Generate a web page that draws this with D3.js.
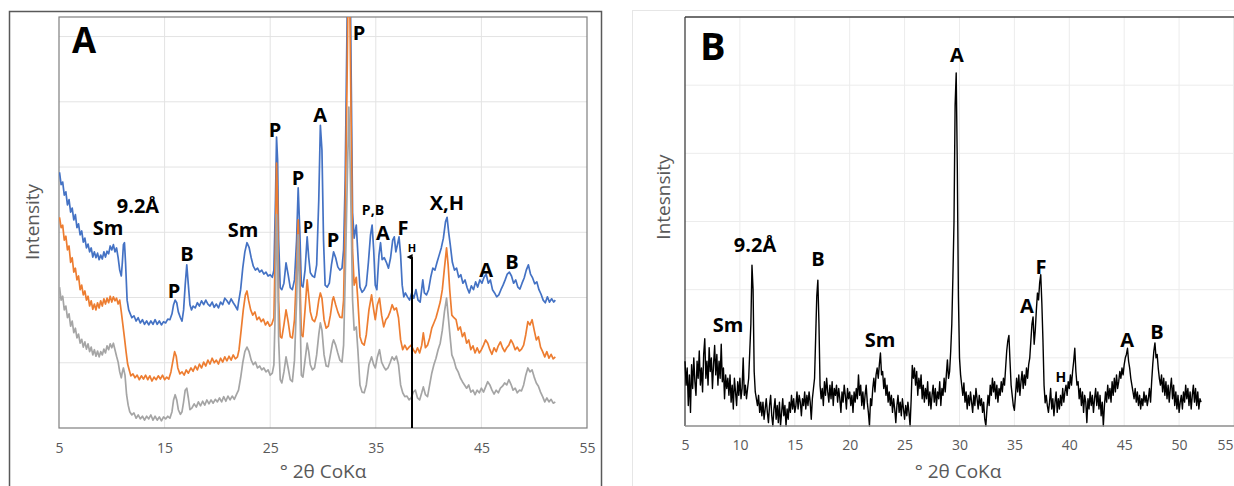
<!DOCTYPE html>
<html><head><meta charset="utf-8">
<script src="https://cdn.jsdelivr.net/npm/d3@7"></script>
<style>
body{margin:0;background:#fff;}
svg{display:block;}
text{font-family:"Open Sans","Noto Sans",sans-serif;}
</style>
</head><body>
<svg id="c" width="1234" height="486"></svg>
<script>
// ---------- DATA ----------
const xTicksA = [5,15,25,35,45,55];
const xTicksB = [5,10,15,20,25,30,35,40,45,50,55];
const gridA = [100,200,300,400,500,600];
const gridB = [100,200,300,400,500];
const vGridA = [15,25,35,45];
const vGridB = [10,15,20,25,30,35,40,45,50,55];

// Panel A: [2theta, intensity]
const aBlue = [[5.05,392],[5.2,373],[5.35,377],[5.5,357],[5.65,362],[5.8,342],[5.95,350],[6.1,331],[6.25,337],[6.4,319],[6.55,327],[6.7,307],[6.85,313],[7.0,296],[7.15,302],[7.3,285],[7.45,291],[7.6,276],[7.75,282],[7.9,270],[8.05,276],[8.2,262],[8.35,270],[8.5,261],[8.65,268],[8.8,258],[8.95,265],[9.1,259],[9.25,270],[9.4,262],[9.55,271],[9.7,267],[9.85,279],[10.0,273],[10.15,281],[10.3,270],[10.45,276],[10.6,261],[10.75,242],[10.9,233],[11.0,254],[11.1,281],[11.2,284],[11.3,254],[11.45,196],[11.6,181],[11.75,175],[11.9,169],[12.1,172],[12.3,164],[12.5,169],[12.7,161],[12.9,166],[13.1,159],[13.3,164],[13.5,158],[13.7,164],[13.9,159],[14.1,166],[14.3,159],[14.5,164],[14.7,158],[14.9,163],[15.1,161],[15.3,167],[15.5,166],[15.7,175],[15.85,189],[16.0,196],[16.15,192],[16.3,178],[16.5,169],[16.65,164],[16.8,181],[16.95,219],[17.1,250],[17.25,219],[17.4,189],[17.55,181],[17.7,187],[17.9,184],[18.1,192],[18.3,187],[18.5,195],[18.7,189],[18.9,196],[19.1,190],[19.3,187],[19.5,193],[19.7,185],[19.9,190],[20.1,184],[20.3,193],[20.5,189],[20.7,199],[20.9,195],[21.1,190],[21.3,198],[21.5,192],[21.7,187],[21.9,181],[22.0,192],[22.2,212],[22.4,245],[22.6,270],[22.8,284],[23.0,277],[23.2,261],[23.4,248],[23.6,242],[23.8,245],[24.0,239],[24.2,242],[24.4,236],[24.6,239],[24.8,233],[25.0,235],[25.2,231],[25.35,242],[25.5,350],[25.6,446],[25.7,411],[25.8,288],[25.95,215],[26.1,212],[26.3,222],[26.5,253],[26.7,235],[26.9,215],[27.1,212],[27.3,227],[27.5,288],[27.65,368],[27.8,304],[27.95,219],[28.1,216],[28.3,242],[28.5,293],[28.65,261],[28.8,238],[29.0,233],[29.2,231],[29.4,250],[29.6,350],[29.75,464],[29.9,426],[30.05,288],[30.2,219],[30.4,216],[30.6,222],[30.8,250],[31.0,270],[31.2,261],[31.4,247],[31.6,242],[31.8,245],[31.95,273],[32.1,380],[32.3,650],[32.45,820],[32.6,650],[32.8,330],[32.95,291],[33.15,311],[33.35,253],[33.5,216],[33.7,208],[33.9,212],[34.1,219],[34.3,254],[34.5,296],[34.65,311],[34.8,273],[34.95,219],[35.1,212],[35.3,265],[35.45,284],[35.6,258],[35.8,261],[36.0,254],[36.2,245],[36.4,261],[36.6,288],[36.75,293],[36.9,270],[37.05,281],[37.2,293],[37.35,265],[37.5,219],[37.65,201],[37.8,207],[38.0,201],[38.2,196],[38.4,207],[38.6,199],[38.8,212],[39.0,196],[39.2,193],[39.45,227],[39.6,207],[39.8,204],[40.0,212],[40.2,231],[40.4,245],[40.6,242],[40.8,254],[41.0,265],[41.2,276],[41.4,291],[41.6,316],[41.75,323],[41.9,300],[42.05,281],[42.25,254],[42.45,242],[42.65,245],[42.85,231],[43.05,235],[43.25,222],[43.45,227],[43.65,215],[43.85,207],[44.05,218],[44.25,212],[44.45,224],[44.65,216],[44.85,227],[45.05,222],[45.25,231],[45.45,236],[45.65,222],[45.85,227],[46.05,212],[46.25,207],[46.45,201],[46.65,204],[46.85,212],[47.05,219],[47.25,227],[47.45,236],[47.65,239],[47.85,233],[48.05,222],[48.25,227],[48.45,216],[48.65,213],[48.85,222],[49.05,230],[49.25,242],[49.45,250],[49.65,236],[49.85,230],[50.05,221],[50.25,224],[50.45,212],[50.65,205],[50.85,196],[51.05,192],[51.25,201],[51.45,193],[51.65,198],[51.85,193],[52.0,196]];

const aOrange = [[5.05,323],[5.2,307],[5.35,311],[5.5,288],[5.65,294],[5.8,273],[5.95,279],[6.1,254],[6.25,261],[6.4,239],[6.55,245],[6.7,227],[6.85,233],[7.0,212],[7.15,219],[7.3,204],[7.45,210],[7.6,196],[7.75,202],[7.9,187],[8.05,195],[8.2,182],[8.35,190],[8.5,181],[8.65,192],[8.8,184],[8.95,195],[9.1,187],[9.25,198],[9.4,190],[9.55,199],[9.7,192],[9.85,202],[10.0,193],[10.15,201],[10.3,195],[10.45,199],[10.6,190],[10.75,196],[10.9,178],[11.05,158],[11.2,138],[11.35,117],[11.5,98],[11.65,89],[11.8,80],[12.0,83],[12.2,77],[12.4,81],[12.6,74],[12.8,80],[13.0,75],[13.2,81],[13.4,74],[13.6,80],[13.8,72],[14.0,78],[14.2,74],[14.4,80],[14.6,75],[14.8,81],[15.0,74],[15.2,78],[15.4,75],[15.6,86],[15.8,104],[15.95,117],[16.1,110],[16.25,92],[16.45,83],[16.65,86],[16.85,81],[17.05,89],[17.25,84],[17.5,92],[17.7,87],[17.9,95],[18.1,89],[18.3,98],[18.5,92],[18.7,101],[18.9,95],[19.1,104],[19.3,98],[19.5,107],[19.7,100],[19.9,104],[20.1,98],[20.3,107],[20.5,101],[20.7,109],[20.9,103],[21.1,110],[21.3,104],[21.5,112],[21.7,106],[21.9,109],[22.05,120],[22.25,150],[22.45,181],[22.65,204],[22.8,210],[22.95,196],[23.15,181],[23.35,173],[23.55,178],[23.75,166],[23.95,170],[24.15,163],[24.35,167],[24.55,158],[24.75,163],[24.95,156],[25.15,159],[25.35,169],[25.5,288],[25.6,406],[25.7,350],[25.8,196],[25.95,140],[26.1,138],[26.3,158],[26.5,181],[26.7,163],[26.9,140],[27.1,138],[27.3,166],[27.5,242],[27.65,319],[27.8,242],[27.95,143],[28.1,140],[28.3,181],[28.5,227],[28.65,202],[28.8,178],[29.0,166],[29.2,163],[29.4,173],[29.6,196],[29.75,207],[29.9,199],[30.1,166],[30.3,153],[30.5,156],[30.7,173],[30.9,196],[31.0,201],[31.2,189],[31.4,178],[31.6,170],[31.8,169],[31.95,196],[32.1,319],[32.3,560],[32.45,809],[32.6,560],[32.8,273],[32.95,219],[33.15,231],[33.3,196],[33.5,140],[33.7,130],[33.9,127],[34.1,143],[34.35,181],[34.6,204],[34.8,181],[34.95,166],[35.15,189],[35.35,199],[35.55,173],[35.75,155],[35.95,166],[36.15,170],[36.35,178],[36.55,189],[36.75,181],[36.95,184],[37.15,169],[37.35,135],[37.55,120],[37.75,127],[37.95,120],[38.15,124],[38.35,127],[38.55,120],[38.75,115],[38.95,123],[39.15,115],[39.35,127],[39.5,146],[39.7,123],[39.9,127],[40.1,138],[40.3,153],[40.5,161],[40.7,169],[40.9,181],[41.1,193],[41.3,212],[41.5,245],[41.7,276],[41.85,250],[42.0,212],[42.2,173],[42.4,169],[42.6,166],[42.8,150],[43.0,155],[43.2,140],[43.4,146],[43.6,130],[43.8,135],[44.0,120],[44.2,126],[44.4,115],[44.6,123],[44.8,115],[45.0,120],[45.2,127],[45.4,135],[45.6,130],[45.8,120],[46.0,113],[46.2,123],[46.4,117],[46.6,126],[46.8,132],[47.0,123],[47.2,117],[47.4,123],[47.6,127],[47.8,135],[48.0,129],[48.2,120],[48.4,124],[48.6,118],[48.8,121],[49.0,127],[49.2,143],[49.4,163],[49.6,158],[49.8,166],[50.0,150],[50.2,135],[50.4,140],[50.6,124],[50.8,117],[51.0,109],[51.2,117],[51.4,107],[51.6,113],[51.8,106],[52.0,109]];

const aGray = [[5.05,216],[5.2,196],[5.35,202],[5.5,181],[5.65,187],[5.8,169],[5.95,175],[6.1,156],[6.25,164],[6.4,146],[6.55,153],[6.7,138],[6.85,144],[7.0,130],[7.15,136],[7.3,124],[7.45,132],[7.6,121],[7.75,129],[7.9,117],[8.05,124],[8.2,112],[8.35,120],[8.5,110],[8.65,118],[8.8,109],[8.95,117],[9.1,112],[9.25,121],[9.4,115],[9.55,126],[9.7,120],[9.85,129],[10.0,123],[10.15,130],[10.3,120],[10.45,110],[10.6,101],[10.75,86],[10.9,77],[11.0,86],[11.1,92],[11.25,81],[11.4,51],[11.55,35],[11.7,25],[11.9,20],[12.1,23],[12.3,15],[12.5,20],[12.7,14],[12.9,18],[13.1,12],[13.3,18],[13.5,14],[13.7,20],[13.9,12],[14.1,18],[14.3,12],[14.5,17],[14.7,11],[14.9,17],[15.1,14],[15.3,18],[15.5,15],[15.7,25],[15.85,43],[16.0,51],[16.15,43],[16.3,28],[16.5,21],[16.65,25],[16.8,40],[16.95,58],[17.1,61],[17.25,46],[17.4,28],[17.6,31],[17.8,37],[18.0,32],[18.2,40],[18.4,34],[18.6,41],[18.8,35],[19.0,43],[19.2,37],[19.4,43],[19.6,38],[19.8,44],[20.0,40],[20.2,46],[20.4,40],[20.6,48],[20.8,41],[21.0,49],[21.2,43],[21.4,49],[21.6,44],[21.8,51],[22.0,58],[22.2,77],[22.4,100],[22.6,117],[22.8,124],[23.0,117],[23.2,104],[23.4,97],[23.6,101],[23.8,92],[24.0,95],[24.2,89],[24.4,92],[24.6,86],[24.8,89],[25.0,81],[25.2,84],[25.35,97],[25.5,196],[25.6,327],[25.7,273],[25.8,135],[25.95,74],[26.1,69],[26.3,86],[26.5,109],[26.7,92],[26.9,74],[27.1,71],[27.3,104],[27.5,196],[27.65,296],[27.8,196],[27.95,81],[28.1,78],[28.3,104],[28.5,130],[28.65,117],[28.8,97],[29.0,89],[29.2,92],[29.4,112],[29.6,143],[29.75,161],[29.9,150],[30.1,112],[30.3,95],[30.5,94],[30.7,112],[30.9,130],[31.0,135],[31.2,127],[31.4,115],[31.6,104],[31.8,101],[31.95,127],[32.1,227],[32.3,380],[32.45,492],[32.6,380],[32.8,196],[32.95,150],[33.15,155],[33.3,120],[33.5,66],[33.7,55],[33.9,54],[34.1,66],[34.35,97],[34.6,109],[34.8,97],[34.95,92],[35.15,109],[35.35,120],[35.55,101],[35.75,94],[35.95,89],[36.15,92],[36.35,100],[36.55,109],[36.75,104],[36.95,110],[37.15,97],[37.35,66],[37.55,54],[37.75,48],[37.95,49],[38.15,43],[38.35,46],[38.55,55],[38.75,58],[38.95,46],[39.15,43],[39.35,54],[39.5,63],[39.7,51],[39.9,48],[40.1,66],[40.3,84],[40.5,97],[40.7,107],[40.9,120],[41.1,130],[41.3,150],[41.5,178],[41.7,199],[41.85,173],[42.0,146],[42.2,112],[42.4,104],[42.6,92],[42.8,86],[43.0,77],[43.2,71],[43.4,66],[43.6,61],[43.8,66],[44.0,55],[44.2,58],[44.4,51],[44.6,58],[44.8,54],[45.0,61],[45.2,55],[45.4,63],[45.6,71],[45.8,66],[46.0,58],[46.2,52],[46.4,58],[46.6,54],[46.8,61],[47.0,64],[47.2,69],[47.4,66],[47.6,74],[47.8,67],[48.0,58],[48.2,61],[48.4,54],[48.6,58],[48.8,57],[49.0,66],[49.2,81],[49.4,92],[49.6,86],[49.8,89],[50.0,78],[50.2,69],[50.4,64],[50.6,55],[50.8,48],[51.0,40],[51.2,46],[51.4,40],[51.6,44],[51.8,38],[52.0,40]];

// Panel B: intensities on a regular 2theta grid (start 5.0, step 0.1)
const bStart = 5.0, bStep = 0.1;
const bIntensity = [
95,60,85,30,75,20,90,55,100,65,
45,95,70,110,60,85,50,105,128,70,
95,60,115,80,100,55,90,118,75,105,
60,95,70,120,65,85,40,75,55,70,
45,75,35,60,25,70,50,30,65,45,
70,40,55,100,45,60,40,55,70,110,
150,236,200,80,50,40,30,45,20,35,
15,35,10,25,40,20,5,30,45,15,
0,25,40,10,30,5,35,0,20,40,
15,30,0,25,10,35,20,45,25,40,
20,30,50,25,45,35,15,40,30,50,
25,45,30,50,35,10,40,55,70,130,
190,214,150,60,40,55,30,65,45,70,
50,35,60,40,65,30,55,45,60,35,
55,40,20,50,35,60,45,25,55,40,
50,30,45,20,50,35,55,40,75,45,
60,30,50,25,45,60,35,20,0,40,
30,55,70,50,75,85,70,90,107,75,
80,55,70,45,60,35,50,30,45,20,
40,25,5,30,45,20,35,15,40,25,
10,30,15,35,20,0,40,89,70,85,
60,80,45,70,55,75,40,60,35,55,
40,65,30,50,25,45,60,35,55,30,
50,40,65,30,55,45,70,50,75,97,
70,80,110,150,220,300,470,518,380,190,
100,75,60,45,63,35,50,25,45,30,
50,35,20,45,30,55,40,25,45,30,
40,20,35,10,0,25,45,30,60,45,
70,50,65,40,60,35,55,45,65,50,
70,60,85,110,125,133,95,60,45,30,
23,45,70,50,75,45,65,80,55,75,
60,85,70,90,100,125,150,160,120,140,
170,195,185,210,222,180,126,60,34,45,
30,20,35,55,25,40,15,35,50,20,
40,25,45,30,55,35,50,60,45,65,
55,75,60,80,95,114,80,60,65,40,
55,30,50,20,45,35,5,40,25,50,
30,45,20,40,55,30,50,25,45,15,
35,0,30,50,35,60,40,55,35,65,
45,70,50,75,55,65,80,70,85,75,
90,100,105,114,95,85,70,60,50,40,
55,35,50,30,45,25,40,30,50,35,
45,30,40,55,35,65,90,110,122,100,
105,85,70,60,75,50,70,45,65,40,
60,35,55,70,40,60,30,50,25,45,
20,35,45,25,50,35,60,40,55,30,
50,25,45,60,35,55,30,50,25,40,
35];

// Annotations: [text, 2theta, intensity]
const labelsA = [["9.2Å",12.48,330],["Sm",9.64,296],["P",25.45,446],["P",27.63,373],["A",29.72,469],["P",33.41,595],["P",30.95,277],["A",35.68,288],["F",37.58,296],["X,H",41.74,334],["Sm",22.42,293],["P",15.89,199],["B",17.12,256],["A",45.44,231],["B",47.9,244]];
const labelsASmall = [["P",28.58,299]];
const labelsAXSmall = [["P,B",34.73,327]];
const labelsATiny = [["H",38.43,270]];
const arrowA = [38.43, 262];
const labelsB = [["9.2Å",11.38,255],["Sm",8.92,138],["B",17.11,235],["Sm",22.76,116],["A",29.77,534],["A",36.15,166],["F",37.42,223],["A",45.26,116],["B",47.99,128]];
const labelsBSmall = [["H",39.24,65]];

// ---------- DRAW ----------
const svg = d3.select("#c");
const defs = svg.append("defs");
defs.append("clipPath").attr("id","clipA").append("rect").attr("x",59).attr("y",17).attr("width",528).attr("height",411);
defs.append("marker").attr("id","arr").attr("viewBox","0 0 10 10").attr("refX",5).attr("refY",9)
  .attr("markerWidth",6).attr("markerHeight",7).attr("markerUnits","userSpaceOnUse").attr("orient","auto-start-reverse")
  .append("path").attr("d","M0,10 L5,0 L10,10 Z").attr("fill","#000");

// ----- Panel A -----
const xA = d3.scaleLinear().domain([5,55]).range([59,587]);
const yA = d3.scaleLinear().domain([0,630]).range([428,17]);
const gA = svg.append("g");
gA.append("rect").attr("x",9.5).attr("y",11.5).attr("width",592).attr("height",520)
  .attr("fill","none").attr("stroke","#595959").attr("stroke-width",1.5);
gA.selectAll(".hg").data(gridA).join("line").attr("x1",59).attr("x2",587)
  .attr("y1",d=>yA(d)).attr("y2",d=>yA(d)).attr("stroke","#e3e3e3");
gA.selectAll(".vg").data(vGridA).join("line").attr("y1",17).attr("y2",428)
  .attr("x1",d=>xA(d)).attr("x2",d=>xA(d)).attr("stroke","#e3e3e3");
gA.append("rect").attr("x",59).attr("y",17).attr("width",528).attr("height",411)
  .attr("fill","none").attr("stroke","#7f7f7f").attr("stroke-width",1.2);

const lineA = d3.line().x(d=>xA(d[0])).y(d=>yA(d[1]));
const series = [[aBlue,"#4472C4"],[aOrange,"#ED7D31"],[aGray,"#A5A5A5"]];
const gl = gA.append("g").attr("clip-path","url(#clipA)");
series.forEach(([d,c])=>{
  gl.append("path").datum(d).attr("d",lineA).attr("fill","none").attr("stroke",c)
    .attr("stroke-width",1.7).attr("stroke-linejoin","round");
});

const axA = gA.append("g").attr("transform","translate(0,428)")
  .call(d3.axisBottom(xA).tickValues(xTicksA).tickSize(0).tickPadding(15));
axA.select(".domain").remove();
axA.selectAll("text").attr("fill","#595959").style("font-size","14px").style("font-family","'Open Sans',sans-serif");

// arrow H
gA.append("line").attr("x1",xA(arrowA[0])).attr("x2",xA(arrowA[0]))
  .attr("y1",yA(0)).attr("y2",yA(arrowA[1])).attr("stroke","#000").attr("stroke-width",2)
  .attr("marker-end","url(#arr)");

function addLabels(g, arr, xs, ys, size){
  g.selectAll(null).data(arr).join("text").attr("x",d=>xs(d[1])).attr("y",d=>ys(d[2]))
    .attr("text-anchor","middle").attr("font-weight","700").attr("font-size",size).attr("fill","#000")
    .text(d=>d[0]);
}
addLabels(gA, labelsA, xA, yA, 20);
addLabels(gA, labelsASmall, xA, yA, 16);
addLabels(gA, labelsAXSmall, xA, yA, 14);
addLabels(gA, labelsATiny, xA, yA, 11);

gA.append("text").attr("x",72).attr("y",53).attr("font-size",35).attr("font-weight","700").text("A");
gA.append("text").attr("x",323).attr("y",478).attr("text-anchor","middle").attr("font-size",19)
  .attr("fill","#595959").text("° 2θ CoKα");
gA.append("text").attr("transform","translate(39,222) rotate(-90)").attr("text-anchor","middle")
  .attr("font-size",19).attr("fill","#595959").text("Intensity");

// ----- Panel B -----
const xB = d3.scaleLinear().domain([5,55]).range([685,1234]);
const yB = d3.scaleLinear().domain([0,600]).range([426,17]);
const gB = svg.append("g");
gB.append("rect").attr("x",632.5).attr("y",10.5).attr("width",700).attr("height",600)
  .attr("fill","none").attr("stroke","#e6e6e6").attr("stroke-width",1);
gB.selectAll(".hg").data(gridB).join("line").attr("x1",685).attr("x2",1234)
  .attr("y1",d=>yB(d)).attr("y2",d=>yB(d)).attr("stroke","#ececec");
gB.selectAll(".vg").data(vGridB).join("line").attr("y1",17).attr("y2",426)
  .attr("x1",d=>Math.min(xB(d),1233.5)).attr("x2",d=>Math.min(xB(d),1233.5)).attr("stroke","#ececec");
gB.append("line").attr("x1",685).attr("x2",1234).attr("y1",17).attr("y2",17).attr("stroke","#404040").attr("stroke-width",1.3);
gB.append("line").attr("x1",685).attr("x2",685).attr("y1",17).attr("y2",426).attr("stroke","#404040").attr("stroke-width",1.3);

const bData = bIntensity.map((v,i)=>[bStart + i*bStep, v]);
const lineB = d3.line().x(d=>xB(d[0])).y(d=>yB(d[1]));
gB.append("path").datum(bData).attr("d",lineB).attr("fill","none").attr("stroke","#000")
  .attr("stroke-width",1.4).attr("stroke-linejoin","round");
gB.append("line").attr("x1",685).attr("x2",1234).attr("y1",426).attr("y2",426).attr("stroke","#8c8c8c").attr("stroke-width",1.5);

const axB = gB.append("g").attr("transform","translate(0,426)")
  .call(d3.axisBottom(xB).tickValues(xTicksB).tickSize(0).tickPadding(14));
axB.select(".domain").remove();
axB.selectAll("text").attr("fill","#595959").style("font-size","14px").style("font-family","'Open Sans',sans-serif");
// keep the last tick label inside the window
axB.selectAll("text").filter(d=>d===55).attr("text-anchor","end").attr("x",-1);

addLabels(gB, labelsB, xB, yB, 20);
addLabels(gB, labelsBSmall, xB, yB, 14);
gB.append("text").attr("x",700).attr("y",60).attr("font-size",38).attr("font-weight","700").text("B");
gB.append("text").attr("x",958).attr("y",478).attr("text-anchor","middle").attr("font-size",19)
  .attr("fill","#595959").text("° 2θ CoKα");
gB.append("text").attr("transform","translate(670,197) rotate(-90)").attr("text-anchor","middle")
  .attr("font-size",19).attr("fill","#595959").text("Intesnsity");
</script>
</body></html>
